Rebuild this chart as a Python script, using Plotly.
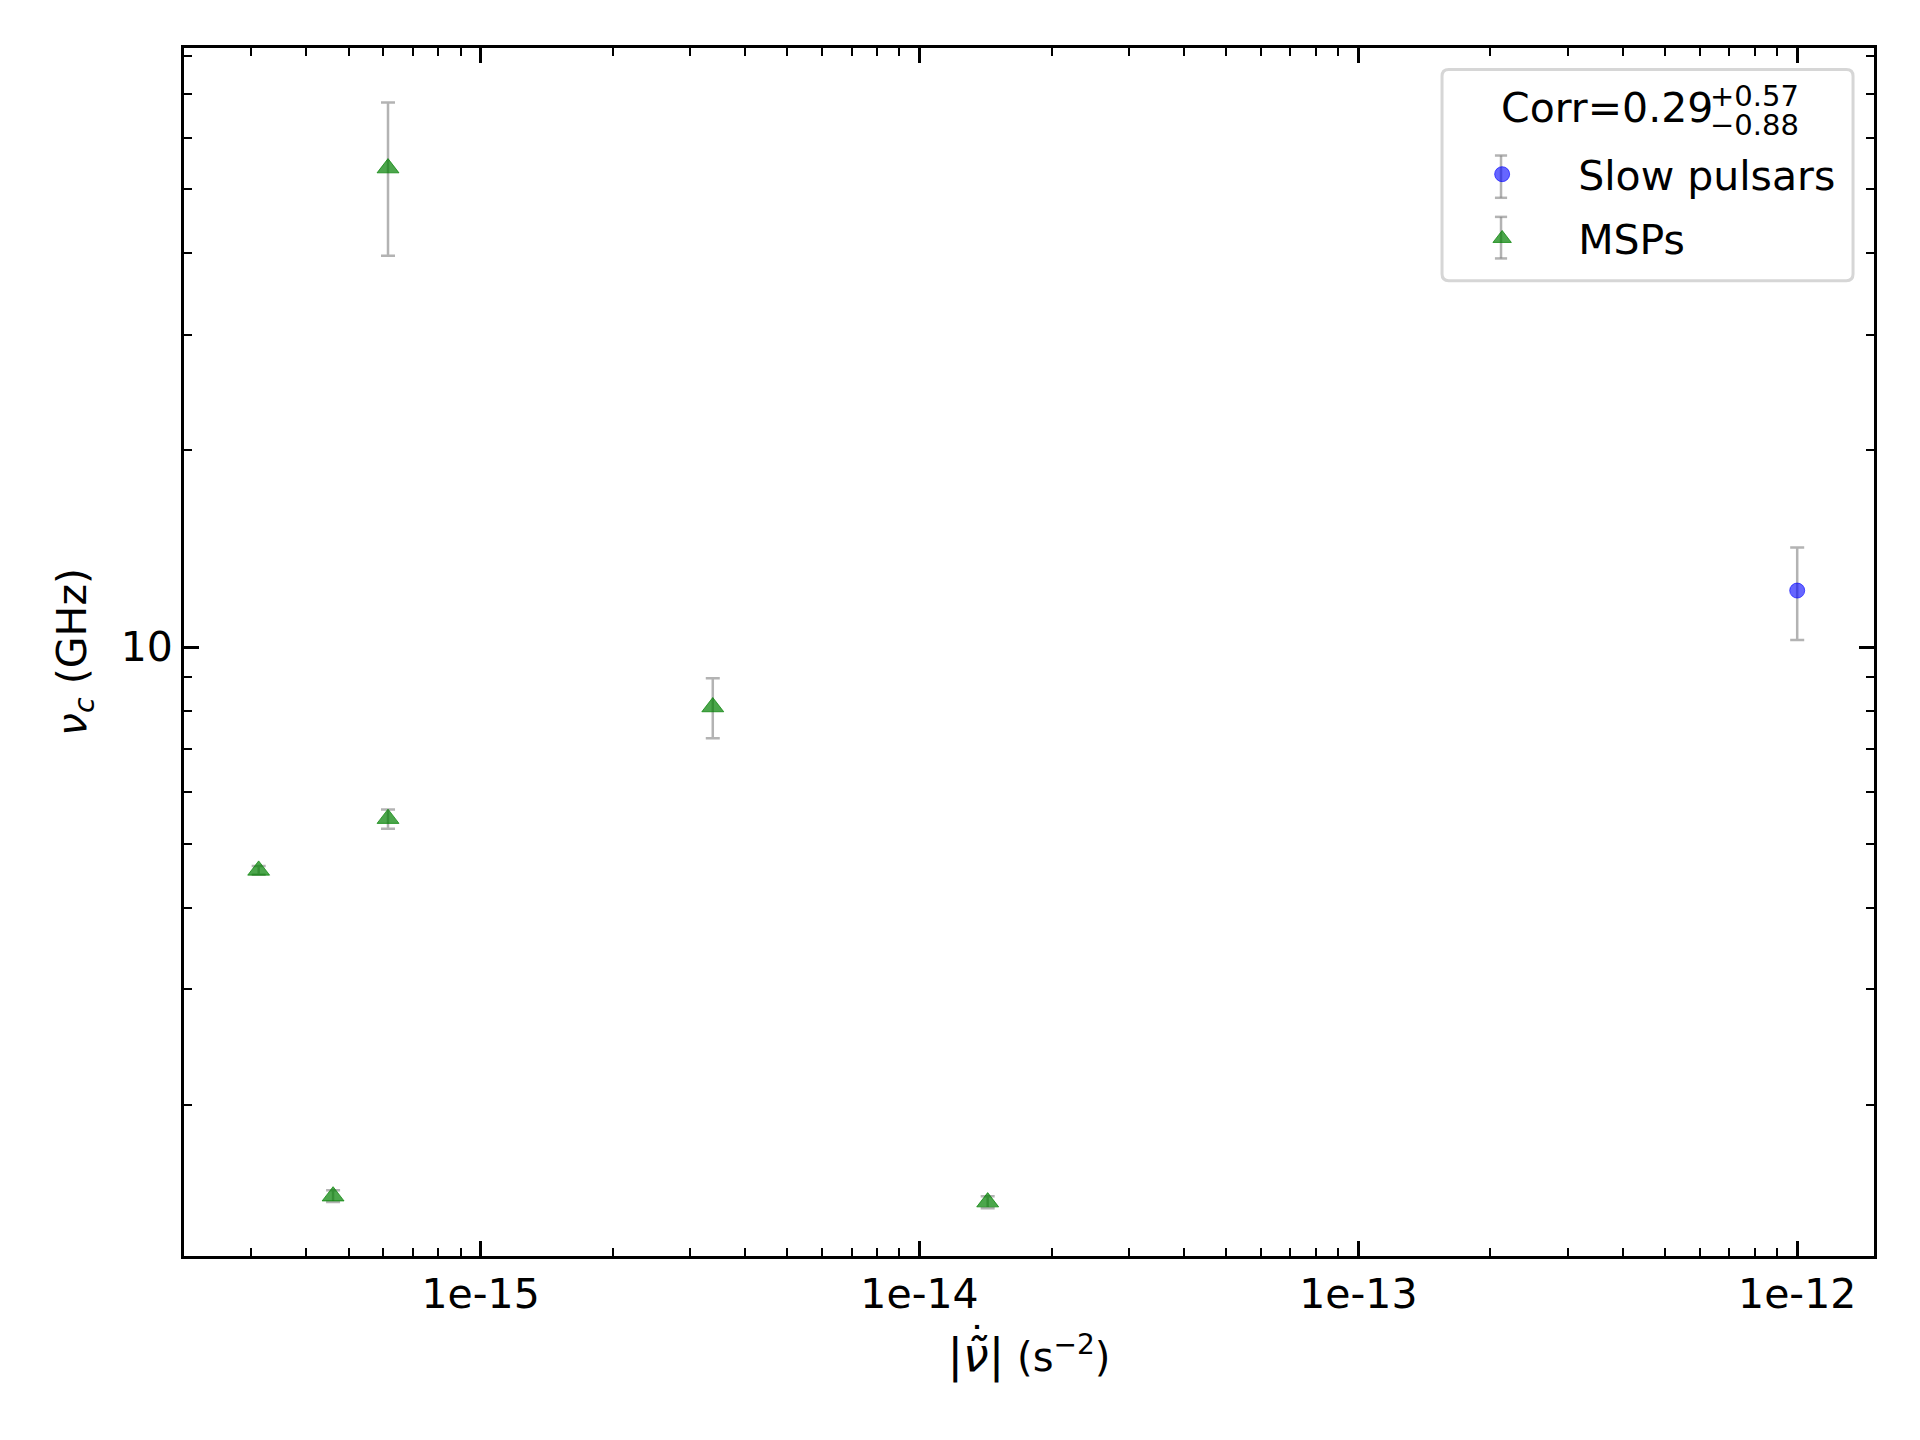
import plotly.graph_objects as go

# values
slow_x = [1.0e-12]
slow_y = [12.2]
slow_err_up = [2.0]
slow_err_down = [1.95]

msp_x = [3.12e-16, 4.61e-16, 6.15e-16, 6.15e-16, 3.38e-15, 1.43e-14]
msp_y = [4.56, 1.45, 5.47, 53.9, 8.10, 1.42]
msp_err_up = [0.07, 0.03, 0.18, 14.0, 0.86, 0.03]
msp_err_down = [0.07, 0.03, 0.19, 14.3, 0.84, 0.03]

x_tick_vals = [1e-15, 1e-14, 1e-13, 1e-12]
x_tick_text = ["1e-15", "1e-14", "1e-13", "1e-12"]
y_tick_vals = [10]
y_tick_text = ["10"]

corr_text = "Corr=0.29"
corr_up = "+0.57"
corr_down = "\u22120.88"

FONT = "DejaVu Sans"
ERR_COLOR = "rgba(128,128,128,0.6)"
x_minor = [m * 10.0 ** e for e in range(-16, -11) for m in range(2, 10)]
y_minor = [m * 10.0 ** e for e in range(0, 2) for m in range(2, 10)]

err_style = dict(type="data", symmetric=False, color=ERR_COLOR, thickness=2.5, width=7)

fig = go.Figure()
fig.add_trace(go.Scatter(
    x=slow_x, y=slow_y, mode="markers", name="Slow pulsars", legendgroup="slow",
    marker=dict(symbol="circle", size=15, color="rgba(0,0,255,0.6)",
                line=dict(color="rgba(0,0,255,0.6)", width=1)),
    error_y=dict(array=slow_err_up, arrayminus=slow_err_down, **err_style),
))
fig.add_trace(go.Scatter(
    x=msp_x, y=msp_y, mode="markers", name="MSPs", legendgroup="msp",
    marker=dict(symbol="triangle-up", size=19, color="rgba(0,128,0,0.7)",
                line=dict(color="rgba(0,128,0,0.7)", width=1)),
    error_y=dict(array=msp_err_up, arrayminus=msp_err_down, **err_style),
))

axis_common = dict(
    showgrid=False, zeroline=False, showline=True, linecolor="black", linewidth=3,
    mirror="allticks", ticks="inside", ticklen=15, tickwidth=2.5, tickcolor="black",
    tickfont=dict(family=FONT, size=41, color="black"),
)

fig.update_xaxes(
    type="log", range=[-15.676, -11.825],
    tickmode="array", tickvals=x_tick_vals, ticktext=x_tick_text,
    minor=dict(tickmode="array", tickvals=x_minor, ticks="inside", ticklen=8,
               tickwidth=2, tickcolor="black"),
    title=dict(text="<span style='font-size:46px'>|<i>\u03bd\u0303</i>|</span> (s<sup>\u22122</sup>)",
               font=dict(family=FONT, size=40, color="black"), standoff=26),
    **axis_common,
)
fig.update_yaxes(
    type="log", range=[0.070, 1.915],
    tickmode="array", tickvals=y_tick_vals, ticktext=y_tick_text,
    minor=dict(tickmode="array", tickvals=y_minor, ticks="inside", ticklen=8,
               tickwidth=2, tickcolor="black"),
    title=dict(text="<i>\u03bd<sub>c</sub></i> (GHz)",
               font=dict(family=FONT, size=41, color="black"), standoff=22),
    **axis_common,
)

fig.update_layout(
    width=1920, height=1440,
    margin=dict(l=176, r=54, t=40, b=192),
    paper_bgcolor="white", plot_bgcolor="white",
    font=dict(family=FONT, color="black"),
    legend=dict(
        x=0.735, y=0.923, xanchor="left", yanchor="top",
        font=dict(family=FONT, size=41, color="black"),
        bgcolor="rgba(0,0,0,0)", borderwidth=0,
        itemwidth=142, tracegroupgap=8,
    ),
    showlegend=True,
)

# legend frame (rounded corners), title and error-bar glyphs
x0, x1, y0, y1 = 0.7444, 0.9876, 0.8074, 0.9822
rx, ry = 0.004, 0.0055
frame = (f"M {x0 + rx},{y0} L {x1 - rx},{y0} Q {x1},{y0} {x1},{y0 + ry} "
         f"L {x1},{y1 - ry} Q {x1},{y1} {x1 - rx},{y1} "
         f"L {x0 + rx},{y1} Q {x0},{y1} {x0},{y1 - ry} "
         f"L {x0},{y0 + ry} Q {x0},{y0} {x0 + rx},{y0} Z")
fig.add_shape(type="path", xref="paper", yref="paper", path=frame,
              fillcolor="rgba(255,255,255,0.8)", line=dict(color="#d6d6d6", width=3),
              layer="below")
for y_lo, y_hi in [(0.876, 0.911), (0.8258, 0.8602)]:
    fig.add_shape(type="line", xref="paper", yref="paper", x0=0.7793, x1=0.7793,
                  y0=y_lo, y1=y_hi, line=dict(color=ERR_COLOR, width=2.5))
    for yc in (y_lo, y_hi):
        fig.add_shape(type="line", xref="paper", yref="paper", x0=0.7757, x1=0.7829,
                      y0=yc, y1=yc, line=dict(color=ERR_COLOR, width=2.5))

fig.add_annotation(x=0.778, y=0.950, xref="paper", yref="paper", text=corr_text,
                   showarrow=False, xanchor="left", yanchor="middle",
                   font=dict(family=FONT, size=41, color="black"))
fig.add_annotation(x=0.902, y=0.960, xref="paper", yref="paper", text=corr_up,
                   showarrow=False, xanchor="left", yanchor="middle",
                   font=dict(family=FONT, size=29, color="black"))
fig.add_annotation(x=0.902, y=0.936, xref="paper", yref="paper", text=corr_down,
                   showarrow=False, xanchor="left", yanchor="middle",
                   font=dict(family=FONT, size=29, color="black"))

# dot accent above the tilde in the x-axis label
fig.add_annotation(x=0.469, y=-0.071, xref="paper", yref="paper", text="\u02d9",
                   showarrow=False, xanchor="center", yanchor="middle",
                   font=dict(family=FONT, size=40, color="black"))

fig.write_html("out.html")
